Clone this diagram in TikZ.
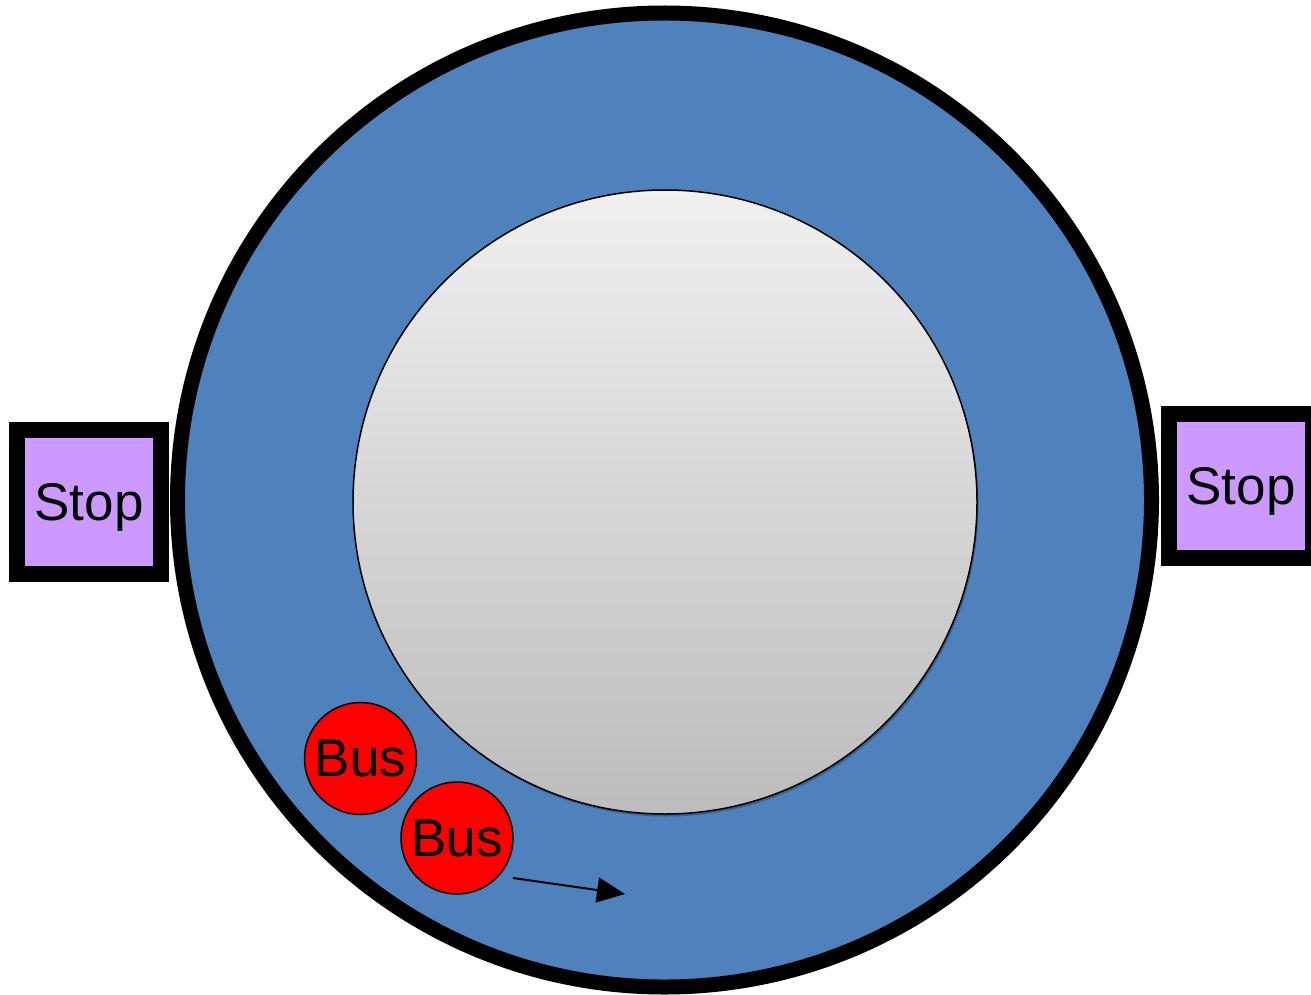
\documentclass[tikz,border=0pt]{standalone}
\usepackage{fontspec}
\setmainfont{Liberation Sans}
\usetikzlibrary{arrows.meta,shadows}
\definecolor{ringblue}{RGB}{79,129,189}
\definecolor{stoppurple}{RGB}{204,153,255}
\definecolor{hubtop}{RGB}{240,240,240}
\definecolor{hubbot}{RGB}{188,188,188}
\definecolor{busred}{RGB}{255,0,0}
\tikzset{
  stopbox/.style={draw=black, line width=16pt, fill=stoppurple, rectangle, minimum size=144pt, inner sep=0pt,
    font=\fontsize{53}{60}\selectfont, text depth=0pt},
  busnode/.style={draw=black, line width=1.5pt, fill=busred, circle, minimum size=112pt, inner sep=0pt,
    font=\fontsize{53}{60}\selectfont, text depth=0pt},
}
\begin{document}
\begin{tikzpicture}[x=1pt,y=-1pt]
\useasboundingbox (0,0) rectangle (1311,995);
\node[circle, draw=black, line width=15pt, fill=ringblue, minimum size=974pt, inner sep=0pt] (ring) at (664.5,500) {};
\node[circle, draw=black, line width=1.5pt, top color=hubtop, bottom color=hubbot, minimum size=624pt, inner sep=0pt,
  drop shadow={shadow xshift=1.5pt, shadow yshift=-2.5pt, opacity=0.25, fill=black}] (hub) at (665,502) {};
\node[stopbox] (stopL) at (89,502) {Stop};
\node[stopbox] (stopR) at (1241,486) {Stop};
\node[busnode] (bus1) at (360.5,758.5) {Bus};
\node[busnode] (bus2) at (457,838) {Bus};
\coordinate (a1) at (513,878);
\coordinate (a2) at (625,894);
\draw[line width=2pt, -{Triangle[length=28pt,width=25pt]}] (a1) -- (a2);
\end{tikzpicture}
\end{document}
